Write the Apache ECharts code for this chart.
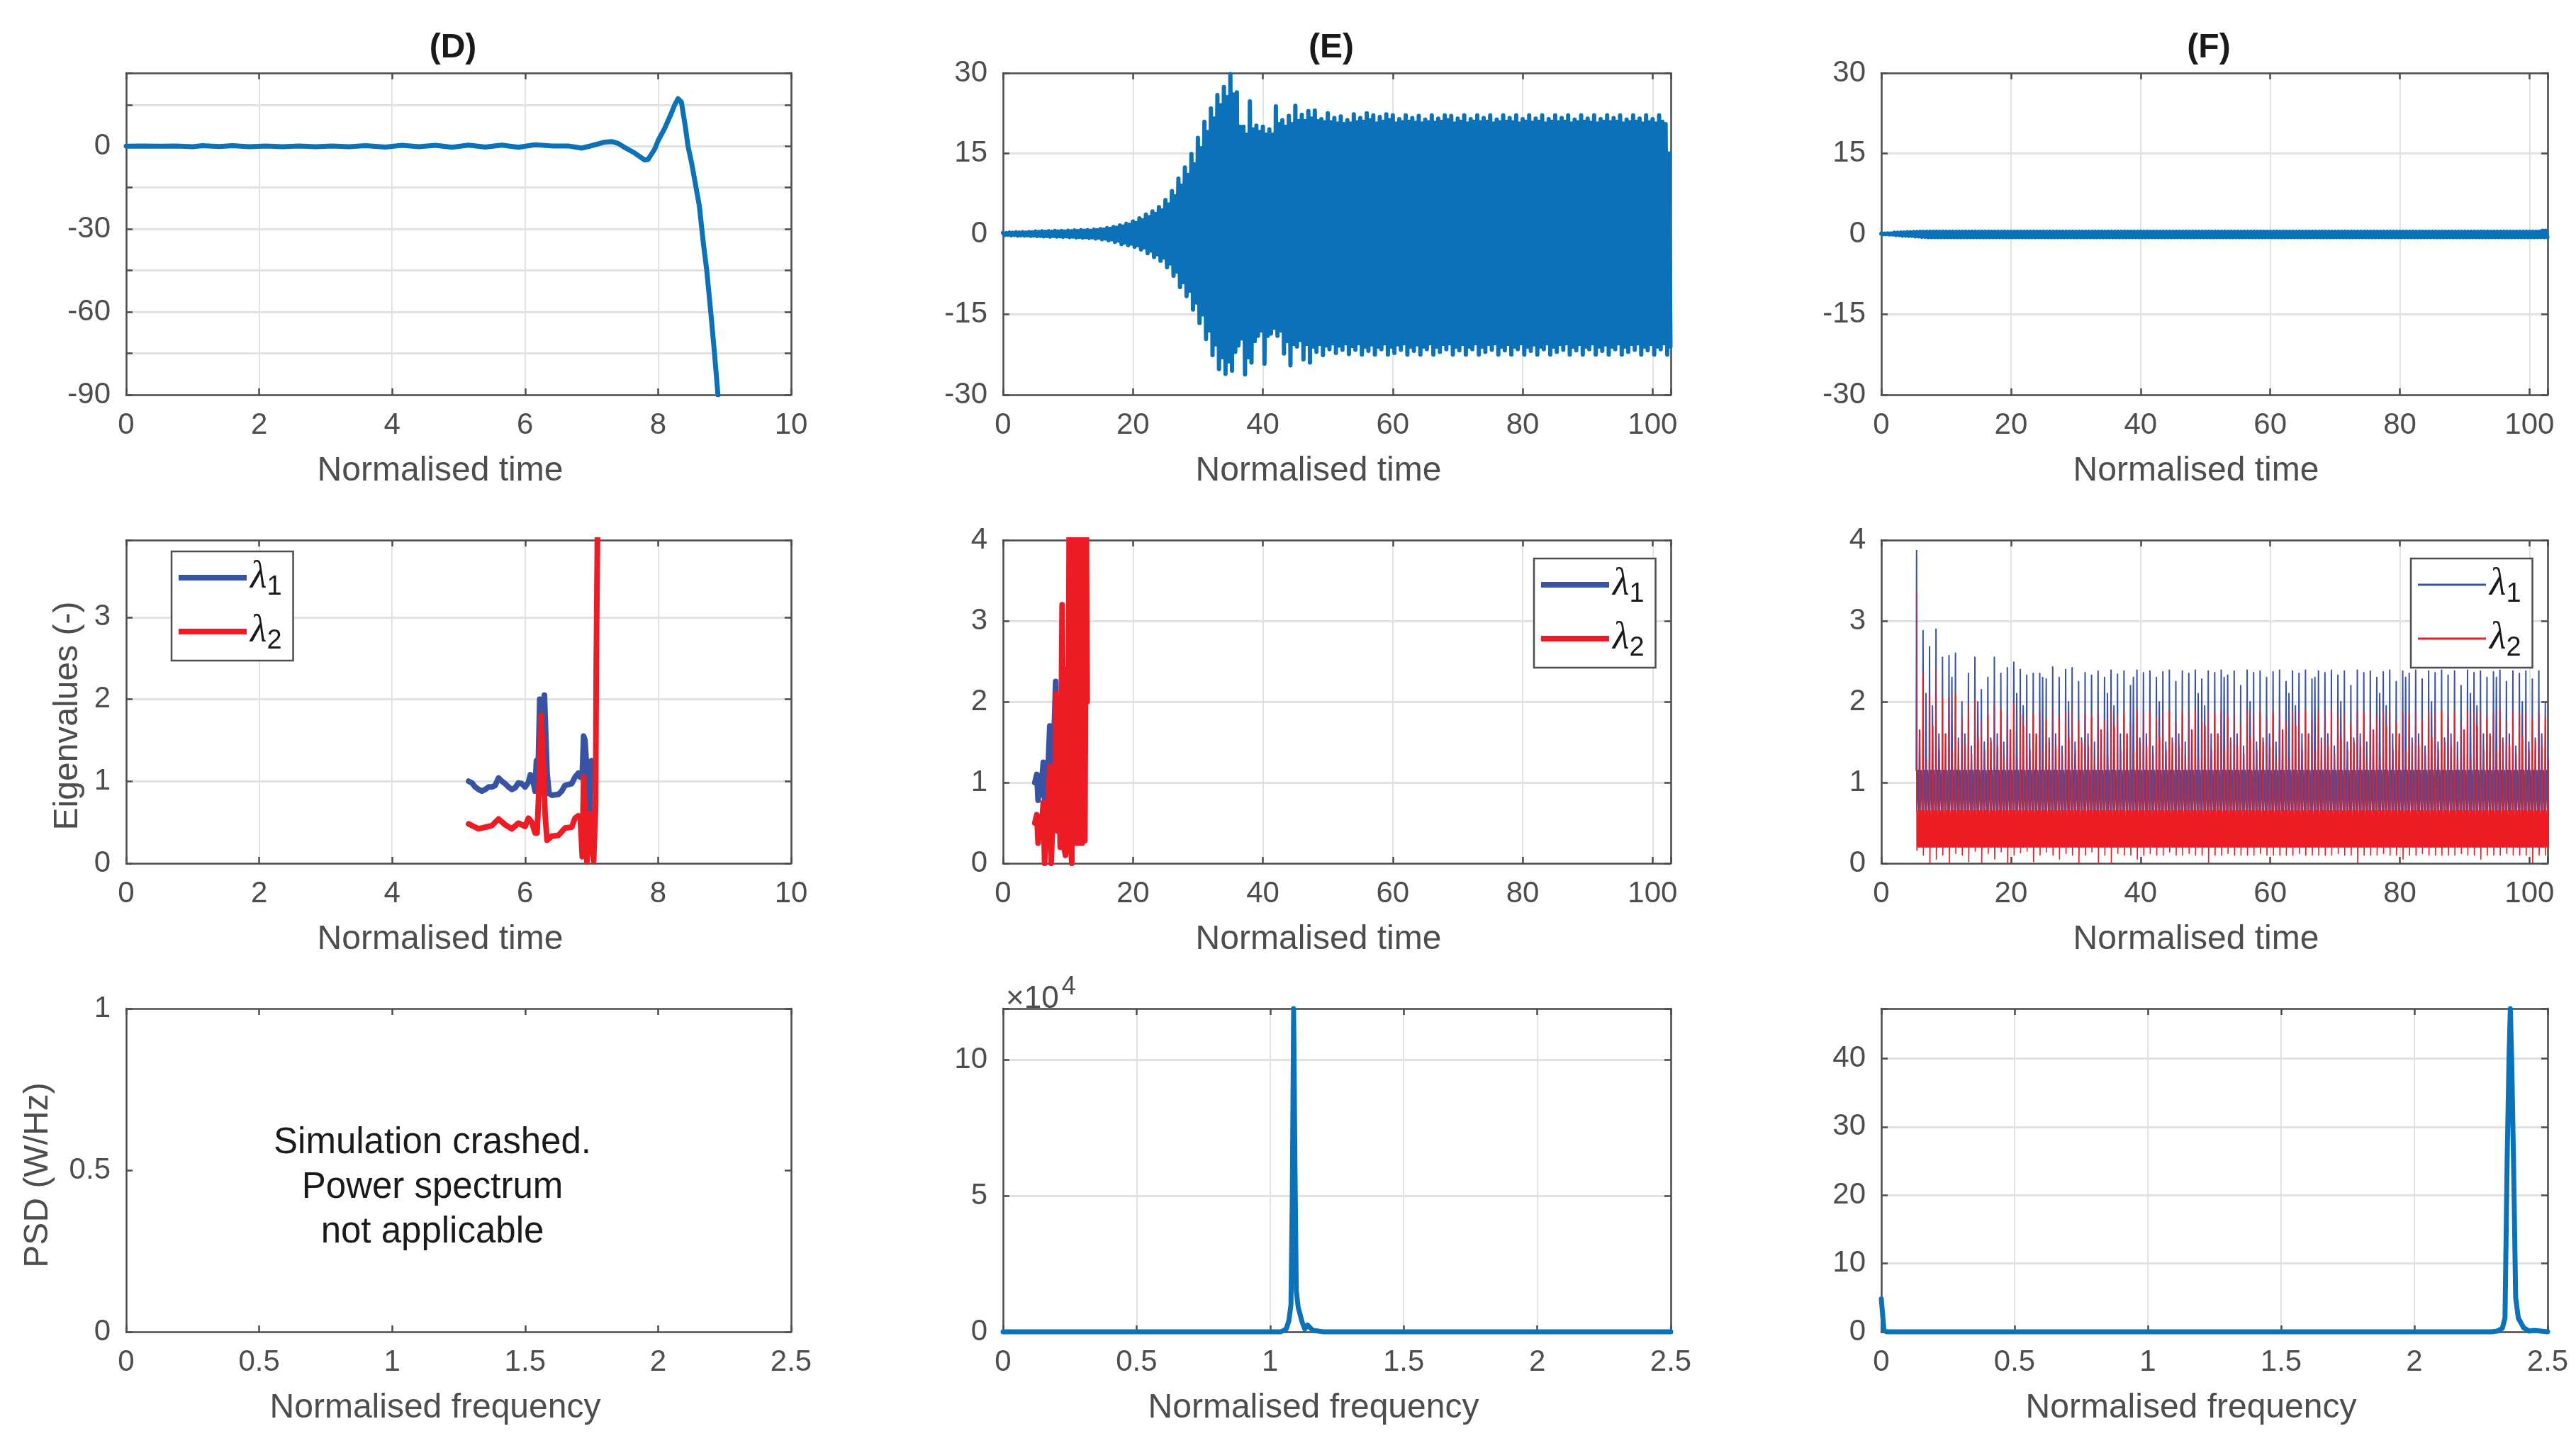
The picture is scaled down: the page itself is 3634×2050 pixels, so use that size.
<!DOCTYPE html>
<html>
<head>
<meta charset="utf-8">
<title>Simulation results D E F</title>
<script src="https://cdn.jsdelivr.net/npm/echarts@6/dist/echarts.min.js"></script>
<style>
  html, body { margin: 0; padding: 0; background: #fff; }
  #chart-container { width: 3634px; height: 2050px; }
</style>
</head>
<body>
<div id="chart-container"></div>
<script>
const BLUE = "#0b72b9";
const LAMBDA1 = "#3953a4";
const LAMBDA2 = "#ed1c24";
const INK = "#4d4d4d";
const GRID = "#e2e2e2";
const FONT = '"Liberation Sans", Arial, sans-serif';

// (D) top: displacement
const dTime = [0,0.25,0.5,0.75,1,1.15,1.4,1.6,1.85,2.1,2.35,2.6,2.85,3.1,3.35,3.6,3.9,4.15,4.4,4.65,4.9,5.15,5.4,5.65,5.9,6.15,6.4,6.65,6.85,7,7.2,7.3,7.4,7.5,7.65,7.8,7.85,7.95,8,8.1,8.2,8.25,8.3,8.35,8.41,8.45,8.51,8.62,8.68,8.73,8.79,8.85,8.9];
const dDisp = [0,0.1,0,0.1,-0.2,0.2,-0.1,0.2,-0.2,0.1,-0.2,0.1,-0.2,0.1,-0.2,0.2,-0.3,0.3,-0.2,0.3,-0.4,0.4,-0.3,0.4,-0.4,0.5,0.1,0.1,-0.7,0.2,1.5,1.7,1,-0.5,-2.5,-5,-4.8,-1,2,6.5,12,15,17.2,16,7,0,-6.8,-21.6,-35,-44.6,-59.5,-75.5,-90];

// (D) middle: eigenvalues
const dLambda1Time = [5.15,5.2,5.25,5.3,5.35,5.4,5.45,5.5,5.55,5.6,5.65,5.7,5.75,5.8,5.85,5.9,5.95,6,6.05,6.08,6.12,6.15,6.17,6.2,6.22,6.25,6.27,6.29,6.33,6.36,6.4,6.5,6.55,6.6,6.7,6.75,6.8,6.83,6.86,6.88,6.9,6.93,6.97,7,7.03,7.05];
const dLambda1 = [1,0.98,0.93,0.9,0.88,0.9,0.93,0.93,0.95,1.04,1,0.97,0.93,0.9,0.92,0.98,0.97,0.93,0.99,1.08,1,0.88,1.25,1.27,2,1.7,1.9,2.05,1.1,0.85,0.83,0.84,0.88,0.95,0.97,1.05,1.1,1.05,1.1,1.55,1.5,1.1,0.6,1.25,1.2,1];
const dLambda2Time = [5.15,5.2,5.3,5.4,5.5,5.6,5.7,5.8,5.9,6,6.05,6.1,6.15,6.18,6.2,6.22,6.24,6.27,6.3,6.33,6.4,6.5,6.6,6.7,6.75,6.8,6.83,6.86,6.88,6.93,6.97,7.03,7.06,7.07,7.09];
const dLambda2 = [0.48,0.46,0.42,0.44,0.46,0.54,0.47,0.42,0.49,0.45,0.55,0.5,0.37,0.37,0.75,1.2,1.8,1.3,0.6,0.28,0.33,0.34,0.43,0.44,0.55,0.58,0.55,0.08,1.05,0.02,0.6,0.03,0.7,2.4,4.2];

// (E) top: oscillation peaks per time unit
const eUpper = [
  0.2,0.25,0.3,0.3,0.35,0.45,0.5,0.5,0.55,0.55,
  0.6,0.65,0.7,0.7,0.8,0.9,1.1,1.3,1.6,1.9,
  2.3,2.9,3.6,4.2,5,6.3,8,10.3,12.4,14.9,
  17.9,20.9,23.4,25.9,27.4,29.8,26.4,20,24.7,20.2,
  20,19.5,23.8,21.2,22,23.9,22.2,22.9,23,21.4,
  22.5,21.6,21.9,21.2,22.3,21.6,22.5,22.1,21.8,22.3,
  22.1,21.4,22.1,21.6,22,21.3,22.1,21.5,22.1,22,
  21.5,22.1,21.4,22.1,21.6,22.1,21.3,22.1,21.6,22.1,
  21.4,22.1,21.5,22.1,21.4,22.1,21.6,22.1,21.3,22.1,
  21.5,22.1,21.4,22.1,21.6,22.1,21.3,22.1,21.5,22.1,
  21.4,22.1,20.5
];
const eUpperInner = [
  0.15,0.2,0.25,0.25,0.3,0.35,0.4,0.4,0.45,0.45,
  0.5,0.55,0.6,0.6,0.7,0.8,0.95,1.15,1.4,1.7,
  2,2.5,3.1,3.7,4.4,5.5,7,9,11,13,
  16,19,21.5,24,25.5,26,20,18.5,19.5,19,
  18.5,18.5,20.5,20,20.5,21,21,21.5,21,20.8,
  20.8,20.6,20.5,20.6,20.8,20.9,21.2,20.6,20.9,21.2,
  20.6,20.8,20.9,20.7,20.6,20.8,20.7,20.9,21.2,20.6,
  20.9,20.6,20.9,20.8,20.9,20.6,20.8,20.9,20.8,20.6,
  20.9,20.7,20.9,20.6,20.9,20.8,20.9,20.6,20.8,20.9,
  20.7,20.6,20.9,20.8,20.9,20.6,20.8,20.9,20.6,20.8,
  20.6,20.9,15
];
const eLower = [
  -0.2,-0.25,-0.3,-0.3,-0.35,-0.4,-0.45,-0.5,-0.5,-0.55,
  -0.6,-0.65,-0.7,-0.75,-0.85,-1,-1.2,-1.5,-1.9,-2.1,
  -2.4,-2.9,-3.6,-4.3,-5,-6.2,-7.8,-9.9,-11.6,-14.1,
  -16.6,-19.6,-22.6,-25.2,-26.1,-25.5,-20.8,-26.2,-24,-19,
  -24.2,-18.6,-19,-22.3,-24.5,-21,-23.4,-24,-22,-22.6,
  -21.5,-22.2,-21.6,-22.4,-21.6,-22.5,-21.8,-22.5,-21.5,-22.5,
  -22.2,-21.6,-22.5,-21.8,-22.5,-21.5,-22.5,-22,-21.5,-22.5,
  -21.7,-22.5,-21.5,-22.5,-22,-21.6,-22.5,-21.7,-22.5,-21.5,
  -22.5,-21.8,-22.5,-21.5,-22.5,-22,-21.6,-22.5,-21.7,-22.5,
  -21.5,-22.5,-21.8,-22.5,-21.5,-22.5,-22,-21.6,-22.5,-21.7,
  -22.5,-21.5,-22.5
];
const eLowerInner = [
  -0.15,-0.2,-0.25,-0.25,-0.3,-0.35,-0.4,-0.4,-0.45,-0.45,
  -0.5,-0.55,-0.6,-0.65,-0.7,-0.85,-1,-1.25,-1.6,-1.8,
  -2.1,-2.5,-3.1,-3.8,-4.4,-5.5,-7,-9,-10.6,-12.8,
  -15,-18,-20.6,-23,-23.8,-22,-19.5,-23,-20,-18,
  -19,-17.5,-18,-20,-20.5,-19.8,-20.5,-21,-20.5,-20.8,
  -20.4,-20.8,-20.4,-20.9,-20.4,-21,-20.6,-21,-20.4,-21,
  -20.6,-20.4,-21,-20.6,-21,-20.4,-21,-20.5,-20.4,-21,
  -20.5,-21,-20.4,-21,-20.5,-20.4,-21,-20.5,-21,-20.4,
  -21,-20.6,-21,-20.4,-21,-20.5,-20.4,-21,-20.5,-21,
  -20.4,-21,-20.6,-21,-20.4,-21,-20.5,-20.4,-21,-20.5,
  -21,-20.4,-21
];

// (E) middle: eigenvalues
const eLambda1Time = [4.9,5.2,5.4,5.7,5.8,6.2,6.4,6.8,7.2,7.5,8.1,8.5,8.9,9.5,9.6];
const eLambda1 = [1,1.1,0.78,1.05,0.85,1.25,0.8,0.9,1.7,0.6,2.25,0.7,1.8,2.4,0.9];
const eLambda2Time = [4.9,5.2,5.4,5.7,5.9,6.2,6.4,6.6,6.8,7.2,7.4,7.6,8,8.1,8.4,8.6,8.8,9.1,9.4,9.6,9.8,10,10.2,10.4,10.6,10.8,11,11.2,11.4,11.6,11.8,12,12.2,12.4,12.6,12.8,12.95];
const eLambda2 = [0.5,0.6,0.25,0.55,0.4,0.75,0,0.4,0.5,1.2,0,0.4,0.45,2.1,0.4,2,0.2,3.2,0.2,0.1,2.3,0.15,4.5,0.25,0,4.5,0.25,4.5,0.25,4.5,0.25,4.5,0.25,4.5,0.28,4.5,2];

// (F) top: oscillation peaks per time unit
const fUpper = [
  0.05,0.1,0.2,0.25,0.3,0.35,0.38,0.4,0.4,0.4,
  0.4,0.4,0.4,0.4,0.4,0.4,0.4,0.4,0.4,0.4,
  0.4,0.4,0.4,0.4,0.4,0.4,0.4,0.4,0.4,0.4,
  0.4,0.4,0.4,0.4,0.4,0.4,0.4,0.4,0.4,0.4,
  0.4,0.4,0.4,0.4,0.4,0.4,0.4,0.4,0.4,0.4,
  0.4,0.4,0.4,0.4,0.4,0.4,0.4,0.4,0.4,0.4,
  0.4,0.4,0.4,0.4,0.4,0.4,0.4,0.4,0.4,0.4,
  0.4,0.4,0.4,0.4,0.4,0.4,0.4,0.4,0.4,0.4,
  0.4,0.4,0.4,0.4,0.4,0.4,0.4,0.4,0.4,0.4,
  0.4,0.4,0.4,0.4,0.4,0.4,0.4,0.4,0.4,0.4,
  0.4,0.4,0.6
];
const fLower = [
  -0.05,-0.1,-0.2,-0.3,-0.35,-0.45,-0.55,-0.6,-0.6,-0.6,
  -0.6,-0.6,-0.6,-0.6,-0.6,-0.6,-0.6,-0.6,-0.6,-0.6,
  -0.6,-0.6,-0.6,-0.6,-0.6,-0.6,-0.6,-0.6,-0.6,-0.6,
  -0.6,-0.6,-0.6,-0.6,-0.6,-0.6,-0.6,-0.6,-0.6,-0.6,
  -0.6,-0.6,-0.6,-0.6,-0.6,-0.6,-0.6,-0.6,-0.6,-0.6,
  -0.6,-0.6,-0.6,-0.6,-0.6,-0.6,-0.6,-0.6,-0.6,-0.6,
  -0.6,-0.6,-0.6,-0.6,-0.6,-0.6,-0.6,-0.6,-0.6,-0.6,
  -0.6,-0.6,-0.6,-0.6,-0.6,-0.6,-0.6,-0.6,-0.6,-0.6,
  -0.6,-0.6,-0.6,-0.6,-0.6,-0.6,-0.6,-0.6,-0.6,-0.6,
  -0.6,-0.6,-0.6,-0.6,-0.6,-0.6,-0.6,-0.6,-0.6,-0.6,
  -0.6,-0.6,-0.6
];

// (F) middle: eigenvalue peaks per time unit, first at t = 5.44
const fLambda1Top = [
  3.87,2.88,2.68,2.9,2.55,2.57,2.6,2,2.35,2.55,
  2.15,2.3,2.55,2.35,2.42,2.49,2.4,2.33,2.35,2.35,
  2.28,2.43,2.3,2.4,2.42,2.25,2.36,2.33,2.38,2.3,
  2.39,2.34,2.38,2.2,2.39,2.36,2.38,2.3,2.37,2.39,
  2.25,2.38,2.35,2.39,2.28,2.38,2.36,2.39,2.33,2.38,
  2.2,2.39,2.36,2.38,2.3,2.37,2.39,2.25,2.38,2.35,
  2.39,2.28,2.38,2.36,2.39,2.33,2.38,2.2,2.39,2.36,
  2.38,2.3,2.37,2.39,2.25,2.38,2.35,2.39,2.28,2.38,
  2.36,2.39,2.33,2.38,2.2,2.39,2.36,2.38,2.3,2.37,
  2.39,2.25,2.38,2.35,2.38,2.28,2.38,2
];
const fLambda2Top = [
  3.35,2.35,2.1,2.4,2.05,2.05,2.1,1.8,1.95,2.03,
  1.75,1.85,1.97,1.9,1.85,1.98,1.85,1.8,1.85,1.88,
  1.78,1.9,1.8,1.88,1.9,1.75,1.87,1.82,1.88,1.78,
  1.89,1.83,1.88,1.72,1.89,1.86,1.88,1.8,1.87,1.89,
  1.75,1.88,1.85,1.89,1.78,1.88,1.86,1.89,1.82,1.88,
  1.72,1.89,1.86,1.88,1.8,1.87,1.89,1.75,1.88,1.85,
  1.89,1.78,1.88,1.86,1.89,1.82,1.88,1.72,1.89,1.86,
  1.88,1.8,1.87,1.89,1.75,1.88,1.85,1.89,1.78,1.88,
  1.86,1.89,1.82,1.88,1.72,1.89,1.86,1.88,1.8,1.87,
  1.89,1.75,1.88,1.85,1.88,1.78,1.88,1.8
];
const fLambda2Floor = [
  0.16,0.1,0,0.05,0.1,0,0.12,0.1,0.02,0.15,
  0,0.12,0.05,0.14,0,0.1,0.13,0.15,0.02,0.1,
  0.14,0.1,0.05,0.12,0.1,0,0.1,0.14,0,0.1,
  0,0.12,0.1,0.1,0.05,0.1,0.12,0.1,0.1,0.14,
  0.1,0.1,0.12,0.1,0.1,0,0.1,0.1,0.12,0.1,
  0.1,0.1,0.1,0.12,0.1,0.1,0.1,0.1,0.1,0.12,
  0.1,0.1,0.1,0.1,0.1,0.12,0.1,0.1,0,0.1,
  0.1,0.1,0.12,0.1,0.1,0.05,0.1,0.1,0.12,0.1,
  0.1,0.1,0.1,0.1,0.12,0.1,0.1,0.05,0.1,0.1,
  0.1,0.12,0.1,0.1,0.1,0,0.1,0.1
];
const fLambda1Shoulder = [1.65,2.1,1.95,1.6,1.6,2.3,1.55,1.6,1.45,2,1.5,1.55,1.6,1.5];
const fLambda2Shoulder = [1.65,1.3,1.7,1.4,1.6,1.4,1.5,1.45,1.35,1.55,1.4,1.5,1.45,1.3];
const fLambda1Band = [0.65, 1.15];
const fLambda2Band = [0.2, 0.65];

// bottom row: power spectra
const eFreq = [0,1,1.04,1.06,1.07,1.078,1.083,1.088,1.093,1.098,1.105,1.12,1.13,1.14,1.16,1.2,2.5];
const ePsd = [0,0,0,1000,4000,10000,50000,118800,60000,15000,9000,3500,1000,2500,500,0,0];
const fFreq = [0,0.01,0.02,2.29,2.31,2.33,2.34,2.348,2.355,2.36,2.365,2.372,2.38,2.39,2.41,2.43,2.45,2.5];
const fPsd = [4.8,0.2,0,0,0.1,0.5,2,25,40,47.3,40,25,5,2,0.6,0.1,0.2,0];

const timeTicks10 = [0, 10, 2];
const timeTicks100 = [0, 102.8, 20];
const freqTicks = [0, 2.5, 0.5];
const crashMessage = "Simulation crashed.\nPower spectrum\nnot applicable";

const zip = (xs, ys) => xs.map((x, i) => [x, ys[i]]);
// up and down between the peaks read for each time unit, two swings per unit
const oscillation = (upper, lower, upperInner, lowerInner) =>
  upper.flatMap((v, i) => [[i, v], [i + 0.25, lower[i]], [i + 0.5, upperInner[i]], [i + 0.75, lowerInner[i]]]);

function lambda1Trace() {
  const [low, high] = fLambda1Band;
  return fLambda1Top.flatMap((top, i) => {
    const t = 5.44 + i;
    const shoulder = fLambda1Shoulder[i % fLambda1Shoulder.length];
    return [[t - 0.05, high], [t, top], [t + 0.05, low], [t + 0.2, high], [t + 0.35, low],
      [t + 0.45, shoulder], [t + 0.55, low], [t + 0.7, high], [t + 0.85, low]];
  });
}

function lambda2Trace() {
  const [low, core] = fLambda2Band;
  return fLambda2Top.flatMap((top, i) => {
    const t = 5.44 + i;
    const floor = fLambda2Floor[i];
    const shoulder = fLambda2Shoulder[i % fLambda2Shoulder.length];
    return [[t, top], [t + 0.05, floor], [t + 0.15, core], [t + 0.25, low], [t + 0.35, core], [t + 0.42, low],
      [t + 0.5, shoulder], [t + 0.55, low], [t + 0.65, core], [t + 0.72, low], [t + 0.8, core], [t + 0.87, low], [t + 0.95, core]];
  });
}

const columns = [
  { left: 178, width: 938, title: "(D)" },
  { left: 1415, width: 942, title: "(E)" },
  { left: 2654, width: 940, title: "(F)" },
];
const rows = [
  { top: 103, height: 454 },
  { top: 762, height: 456 },
  { top: 1423, height: 456 },
];

// one entry per panel, row by row
const panels = [
  { x: timeTicks10, y: [-90, 26.5, 15], shown: (v) => v % 30 === 0 && v <= 0, xName: "Normalised time" },
  { x: timeTicks100, y: [-30, 30, 15], xName: "Normalised time" },
  { x: timeTicks100, y: [-30, 30, 15], xName: "Normalised time" },
  { x: timeTicks10, y: [0, 3.94, 1], xName: "Normalised time", yName: "Eigenvalues (-)" },
  { x: timeTicks100, y: [0, 4, 1], xName: "Normalised time" },
  { x: timeTicks100, y: [0, 4, 1], xName: "Normalised time" },
  { x: freqTicks, y: [0, 1, 0.5], xName: "Normalised frequency", yName: "PSD (W/Hz)", noGrid: true },
  { x: freqTicks, y: [0, 118800, 50000], scale: 1e4, xName: "Normalised frequency" },
  { x: freqTicks, y: [0, 47.3, 10], xName: "Normalised frequency" },
];

const grid = [], xAxis = [], yAxis = [];
panels.forEach((p, i) => {
  const col = columns[i % 3], row = rows[Math.floor(i / 3)];
  grid.push({ left: col.left, top: row.top, width: col.width, height: row.height, show: false });
});

const niceLabel = (v, [min, max, step]) => {
  const k = (v - min) / step;
  return Math.abs(k - Math.round(k)) < 1e-6;
};
const line = { lineStyle: { color: INK, width: 2.5 } };

panels.forEach((p, i) => {
  const base = { gridIndex: i, type: "value", axisLine: { show: true, onZero: false, ...line } };
  const tick = { show: true, inside: true, length: 9, ...line };
  xAxis.push({
    ...base, position: "bottom", min: p.x[0], max: p.x[1], interval: p.x[2],
    axisTick: tick,
    axisLabel: {
      color: INK, fontSize: 42, fontFamily: FONT, margin: 22, hideOverlap: false,
      showMinLabel: true, showMaxLabel: true,
      formatter: (v) => (niceLabel(v, p.x) ? String(+v.toFixed(2)) : ""),
    },
    splitLine: { show: !p.noGrid, lineStyle: { color: GRID, width: 2 } },
    name: p.xName, nameLocation: "middle", nameGap: 84,
    nameTextStyle: {
      color: INK, fontSize: 48, fontFamily: FONT,
      padding: p.xName === "Normalised time" ? [0, 52, 0, 0] : [0, 66, 0, 0],
    },
  });
  yAxis.push({
    ...base, position: "left", min: p.y[0], max: p.y[1], interval: p.y[2],
    axisTick: tick,
    axisLabel: {
      color: INK, fontSize: 42, fontFamily: FONT, margin: 22, hideOverlap: false,
      showMinLabel: true, showMaxLabel: true, padding: [4, 0, 0, 0],
      formatter: (v) => {
        if (!niceLabel(v, p.y) || (p.shown && !p.shown(v))) return "";
        return String(+(v / (p.scale || 1)).toFixed(2));
      },
    },
    splitLine: { show: !p.noGrid, lineStyle: { color: GRID, width: 3 } },
    name: p.yName, nameLocation: "middle",
    nameGap: p.yName === "PSD (W/Hz)" ? 100 : 58,
    nameTextStyle: {
      color: INK, fontSize: 48, fontFamily: FONT,
      padding: p.yName === "PSD (W/Hz)" ? [0, 14, 0, 0] : [0, 40, 0, 0],
    },
  });
});

// mirrored frame with the inward ticks on the top and right sides
panels.forEach((p, i) => {
  const base = {
    gridIndex: i, type: "value", axisLabel: { show: false }, splitLine: { show: false },
    axisLine: { show: true, onZero: false, ...line },
    axisTick: { show: true, inside: true, length: 9, ...line },
  };
  xAxis.push({ ...base, position: "top", min: p.x[0], max: p.x[1], interval: p.x[2] });
  yAxis.push({ ...base, position: "right", min: p.y[0], max: p.y[1], interval: p.y[2] });
});

function lineSeries(panel, data, color, width, extra) {
  return {
    type: "line", xAxisIndex: panel, yAxisIndex: panel, data, showSymbol: false, symbol: "none",
    color, lineStyle: { color, width, join: "round", cap: "round" }, clip: true, silent: true, ...extra,
  };
}

const series = [
  lineSeries(0, zip(dTime, dDisp), BLUE, 7),
  lineSeries(1, oscillation(eUpper, eLower, eUpperInner, eLowerInner), BLUE, 6, { clip: false }),
  lineSeries(2, oscillation(fUpper, fLower, fUpper, fLower), BLUE, 6, { clip: false }),
  lineSeries(3, zip(dLambda1Time, dLambda1), LAMBDA1, 8, { name: "λ1" }),
  lineSeries(3, zip(dLambda2Time, dLambda2), LAMBDA2, 8, { name: "λ2" }),
  lineSeries(4, zip(eLambda1Time, eLambda1), LAMBDA1, 8, { name: "λ1" }),
  lineSeries(4, zip(eLambda2Time, eLambda2), LAMBDA2, 8, { name: "λ2" }),
  lineSeries(5, lambda1Trace(), LAMBDA1, 2, { name: "λ1" }),
  lineSeries(5, lambda2Trace(), LAMBDA2, 1.6, { name: "λ2" }),
  lineSeries(7, zip(eFreq, ePsd), BLUE, 7, { clip: false }),
  lineSeries(8, zip(fFreq, fPsd), BLUE, 7, { clip: false }),
];

const legendBase = {
  orient: "vertical", data: ["λ1", "λ2"], selectedMode: false, icon: "rect",
  backgroundColor: "#fff", borderColor: INK, borderWidth: 2.5,
  itemGap: 16, padding: [10, 16, 8, 10],
  formatter: (name) => `{l|λ}{s|${name.slice(-1)}}`,
  textStyle: {
    rich: {
      l: { fontSize: 54, fontStyle: "italic", fontFamily: '"Liberation Serif", serif', color: "#1a1a1a", height: 58 },
      s: { fontSize: 38, fontFamily: FONT, color: "#1a1a1a", padding: [28, 0, 0, 0] },
    },
  },
};

const legend = [
  { ...legendBase, left: 242, top: 778, itemWidth: 96, itemHeight: 8 },
  { ...legendBase, left: 2164, top: 788, itemWidth: 96, itemHeight: 8 },
  { ...legendBase, left: 3401, top: 788, itemWidth: 96, itemHeight: 3 },
];

const title = columns.map((c) => ({
  text: c.title, left: c.left + c.width / 2 - 8, top: 44, textAlign: "center", padding: 0,
  textStyle: { fontSize: 48, fontWeight: "bold", fontFamily: FONT, color: "#1a1a1a" },
}));

const graphic = [
  {
    type: "text", x: 610, y: 1581,
    style: {
      text: crashMessage, fontSize: 51, fontFamily: FONT, fill: "#1a1a1a",
      align: "center", lineHeight: 63,
    },
  },
  {
    type: "text", x: 1419, y: 1375,
    style: {
      text: "×10{e|4}", fontSize: 44, fontFamily: FONT, fill: INK,
      rich: { e: { fontSize: 36, fontFamily: FONT, fill: INK, padding: [0, 0, 34, 4] } },
    },
  },
];

const dom = document.getElementById("chart-container");
const chart = echarts.init(dom, null, { renderer: "canvas" });
chart.setOption({ animation: false, backgroundColor: "#fff", title, grid, xAxis, yAxis, legend, series, graphic });
</script>
</body>
</html>
